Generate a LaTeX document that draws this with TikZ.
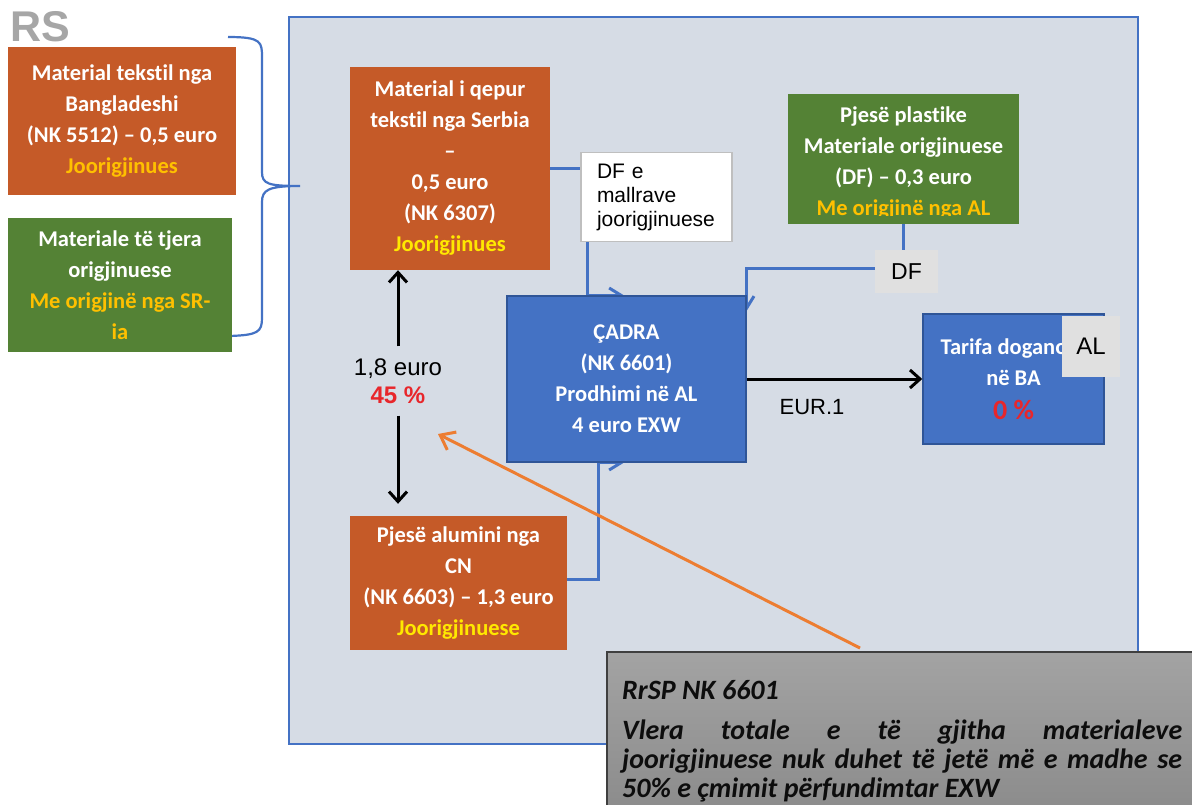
\documentclass[tikz,border=0pt]{standalone}
\usepackage{fontspec}
\setmainfont{Liberation Sans}
\newfontfamily\carlito{Carlito}[Ligatures=NoCommon]
\usetikzlibrary{arrows.meta}

\definecolor{panelfill}{HTML}{D6DCE5}
\definecolor{accblue}{HTML}{4472C4}
\definecolor{darkblue}{HTML}{2F5597}
\definecolor{rust}{HTML}{C55A28}
\definecolor{leaf}{HTML}{548235}
\definecolor{gold}{HTML}{FFC000}
\definecolor{brightyellow}{HTML}{FFE800}
\definecolor{alarm}{HTML}{E8262B}
\definecolor{tag}{HTML}{E0E0E0}
\definecolor{pointer}{HTML}{ED7D31}
\definecolor{rsgray}{HTML}{A6A6A6}
\definecolor{boxgray}{HTML}{BFBFBF}
\definecolor{calltop}{HTML}{A3A3A3}
\definecolor{callbot}{HTML}{8A8A8A}
\definecolor{calledge}{HTML}{3F3F3F}
\definecolor{ink}{HTML}{0D0D0D}

\begin{document}
\begin{tikzpicture}[x=1pt,y=-1pt,
  box/.style={inner sep=0pt, align=center, text=white,
    font=\carlito\bfseries\fontsize{22.5}{31}\selectfont},
  rustbox/.style={box, fill=rust},
  leafbox/.style={box, fill=leaf},
  bluebox/.style={box, fill=accblue, draw=darkblue, line width=1.5pt},
  tagbox/.style={fill=tag, inner sep=0pt},
  link/.style={draw=accblue, line width=3pt},
  linkarrow/.style={link, -{Straight Barb[length=13pt,width=16pt]}},
  blackarrow/.style={draw=black, line width=3pt, -{Straight Barb[length=10pt,width=18pt]}},
  pointarrow/.style={draw=pointer, line width=3pt, -{Straight Barb[length=13pt,width=20pt]}},
]
\useasboundingbox (0,0) rectangle (1192,805);
\clip (0,0) rectangle (1192,805);
\fill[white] (0,0) rectangle (1192,805);

% country label
\node[text=rsgray, font=\bfseries\fontsize{43}{46}\selectfont, inner sep=0pt] (rs) at (40,27) {RS};

% production panel
\draw[fill=panelfill, draw=accblue, line width=1.5pt] (289,17) rectangle (1138,744);

% brace grouping the inputs of the Serbian material
\draw[accblue, line width=2.2pt] (228,37) .. controls (262,37) and (262,42) .. (262,58)
  -- (262,172) .. controls (262,184) and (268,186) .. (300,186)
  .. controls (268,186) and (262,190) .. (262,202)
  -- (262,318) .. controls (262,332) and (258,335) .. (230,336);

% inputs from Serbia
\node[rustbox, minimum width=228pt, minimum height=148pt] (bang) at (122,121)
  {Material tekstil nga\\Bangladeshi\\(NK 5512) – 0,5 euro\\\textcolor{gold}{Joorigjinues}};
\node[leafbox, minimum width=224pt, minimum height=134pt] (other) at (120,285)
  {Materiale të tjera\\origjinuese\\\textcolor{gold}{Me origjinë nga SR-}\\\textcolor{gold}{ia}};

% materials used in Albania
\node[rustbox, minimum width=200pt, minimum height=203pt] (serbia) at (450,168.5)
  {Material i qepur\\tekstil nga Serbia\\–\\0,5 euro\\(NK 6307)\\\textcolor{brightyellow}{Joorigjinues}};
\node[draw=boxgray, fill=white, line width=1.5pt, minimum width=151pt, minimum height=89pt,
  inner sep=0pt, align=left, text width=119pt, font=\fontsize{21}{24}\selectfont] (dfbox) at (656.5,197)
  {DF e\\mallrave\\joorigjinuese};
\node[rustbox, minimum width=217pt, minimum height=134pt] (alu) at (458.5,583)
  {Pjesë alumini nga\\CN\\(NK 6603) – 1,3 euro\\\textcolor{brightyellow}{Joorigjinuese}};
\node[leafbox, minimum width=231pt, minimum height=130pt] (plastic) at (903.5,159) {};
\begin{scope}
  \clip (788,94) rectangle (1019,216);
  \node[box] (plastictext) at (903.5,163)
    {Pjesë plastike\\Materiale origjinuese\\(DF) – 0,3 euro\\\textcolor{gold}{Me origjinë nga AL}};
\end{scope}
\node[tagbox, minimum width=63pt, minimum height=43pt, font=\fontsize{23}{27}\selectfont] (dflabel) at (906.5,271.5) {DF};

% blue connectors (arrow tips partly hidden under the product box)
\coordinate (cadraNW) at (507,296);
\coordinate (cadraSW) at (507,462);
\coordinate (cadraNE) at (746,296);
\draw[link] (serbia.east) -- (serbia.east -| dfbox.west);
\draw[linkarrow] ([xshift=7pt]dfbox.south west) |- ([xshift=118pt]cadraNW);
\draw[linkarrow] ([yshift=3pt]dflabel.west) -| ([yshift=-16pt]cadraNE);
\draw[linkarrow] ([yshift=4pt]alu.east) -- ++(31,0) |- ([xshift=118pt]cadraSW);
\draw[link] (plastic.south) -- (plastic.south |- dflabel.north);

% product and destination
\node[bluebox, minimum width=239pt, minimum height=166pt] (cadra) at (626.5,379)
  {ÇADRA\\(NK 6601)\\Prodhimi në AL\\4 euro EXW};
\node[bluebox, minimum width=181pt, minimum height=130pt] (tarifa) at (1013.5,379)
  {Tarifa doganore\\në BA\\[3pt]{\fontsize{28}{31}\selectfont\color{alarm}0 \%}};
\node[tagbox, minimum width=58pt, minimum height=61pt, font=\fontsize{24}{28}\selectfont] (al) at (1091,346.5) {AL};

% export with proof of origin
\draw[blackarrow] (cadra.east) -- (tarifa.west);
\node[font=\fontsize{22}{26}\selectfont, inner sep=0pt] (eur) at (812,407) {EUR.1};

% share of non-originating materials
\node[inner sep=12pt, align=center, font=\fontsize{24}{28}\selectfont] (share) at (398,381)
  {1,8 euro\\\textcolor{alarm}{\bfseries 45 \%}};
\draw[blackarrow] (share.north) -- (share.north |- serbia.south);
\draw[blackarrow] (share.south) -- ([yshift=12pt]share.south |- alu.north);

% rule callout
\coordinate (ptr) at (438,434);
\node[anchor=north west, minimum width=600pt, minimum height=170pt, inner sep=0pt,
  top color=calltop, bottom color=callbot, draw=calledge, line width=1.5pt] (callout) at (606,651) {};
\draw[pointarrow] ([xshift=254pt,yshift=3pt]callout.north west) -- (ptr);
\node[anchor=north west, inner sep=0pt, text width=560pt, align=justify, text=ink,
  font=\carlito\bfseries\itshape\fontsize{28}{29}\selectfont] (rule) at (622,680)
  {RrSP NK 6601\\[11pt]Vlera totale e të gjitha materialeve\linebreak
   joorigjinuese nuk duhet të jetë më e madhe se\linebreak
   50\% e çmimit përfundimtar EXW};
\end{tikzpicture}
\end{document}
